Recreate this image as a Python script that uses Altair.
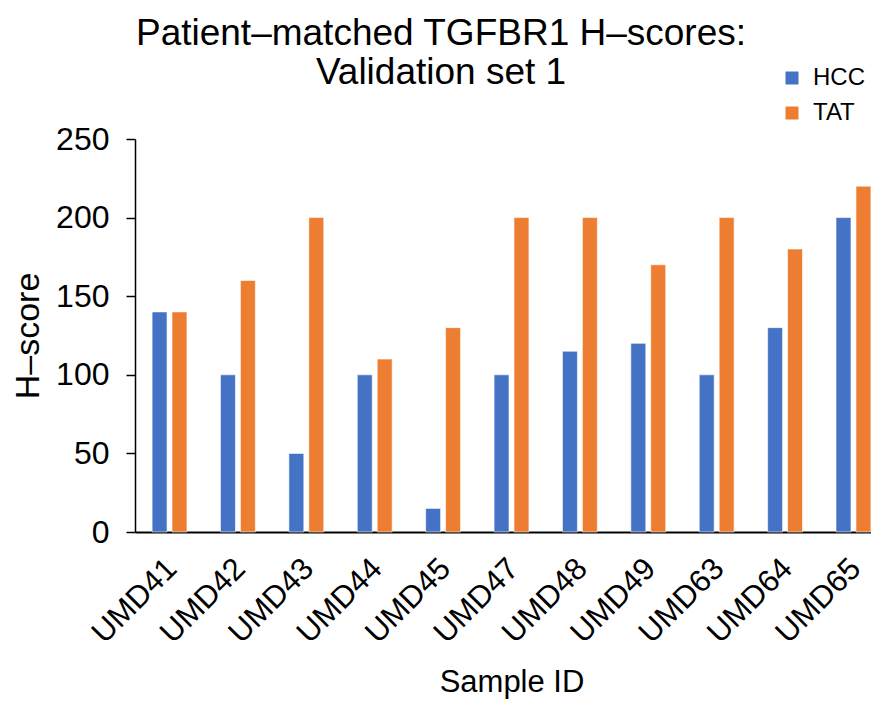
import altair as alt
import pandas as pd

samples = ["UMD41", "UMD42", "UMD43", "UMD44", "UMD45", "UMD47", "UMD48", "UMD49", "UMD63", "UMD64", "UMD65"]
hcc = [140, 100, 50, 100, 15, 100, 115, 120, 100, 130, 200]
tat = [140, 160, 200, 110, 130, 200, 200, 170, 200, 180, 220]
groups = ["HCC", "TAT"]
colors = ["#4472C4", "#ED7D31"]

rows = []
for s, h, t in zip(samples, hcc, tat):
    rows.append({"Sample": s, "Group": "HCC", "Score": h})
    rows.append({"Sample": s, "Group": "TAT", "Score": t})
df = pd.DataFrame(rows)

FONT = "Liberation Sans"

chart = alt.Chart(df).mark_bar(stroke="white", strokeWidth=0.6).encode(
    x=alt.X("Sample:N", sort=samples, title="Sample ID",
            scale=alt.Scale(paddingInner=0.49, paddingOuter=0.25, range=[0, 753]),
            axis=alt.Axis(labelAngle=-45, labelFontSize=31, titleFontSize=31,
                          ticks=False, domainColor="black", domainWidth=2,
                          labelColor="black", titleColor="black", labelFont=FONT,
                          titleFont=FONT, titleFontWeight="normal", labelPadding=21,
                          labelOffset=-8, titlePadding=19)),
    xOffset=alt.XOffset("Group:N", sort=groups, scale=alt.Scale(paddingInner=0.25)),
    y=alt.Y("Score:Q", title="H–score",
            scale=alt.Scale(domain=[0, 250]),
            axis=alt.Axis(values=[0, 50, 100, 150, 200, 250], grid=False,
                          labelFontSize=32, titleFontSize=34, tickSize=9,
                          tickColor="black", tickWidth=1.5, domainColor="black",
                          domainWidth=1.5, labelColor="black", titleColor="black",
                          labelFont=FONT, titleFont=FONT, titleFontWeight="normal",
                          labelPadding=17, titlePadding=10)),
    color=alt.Color("Group:N", sort=groups,
                    scale=alt.Scale(domain=groups, range=colors),
                    legend=alt.Legend(title=None, orient="none", legendX=645, legendY=-73,
                                      labelFontSize=24, labelFont=FONT, labelColor="black",
                                      symbolType="square", symbolSize=169,
                                      labelOffset=9, rowPadding=11, symbolStrokeWidth=0)),
).properties(
    width=736,
    height=393,
    title=alt.TitleParams(["Patient–matched TGFBR1 H–scores:", "Validation set 1"],
                          fontSize=37, font=FONT, fontWeight="normal", color="black",
                          anchor="middle", frame="group", dx=-62, offset=-26, lineHeight=39),
    autosize=alt.AutoSizeParams(type="none"),
    padding={"left": 127, "top": 131, "right": 0, "bottom": 168},
).configure_view(stroke=None)

chart.save("out.html", embed_options={"renderer": "svg", "actions": False})
